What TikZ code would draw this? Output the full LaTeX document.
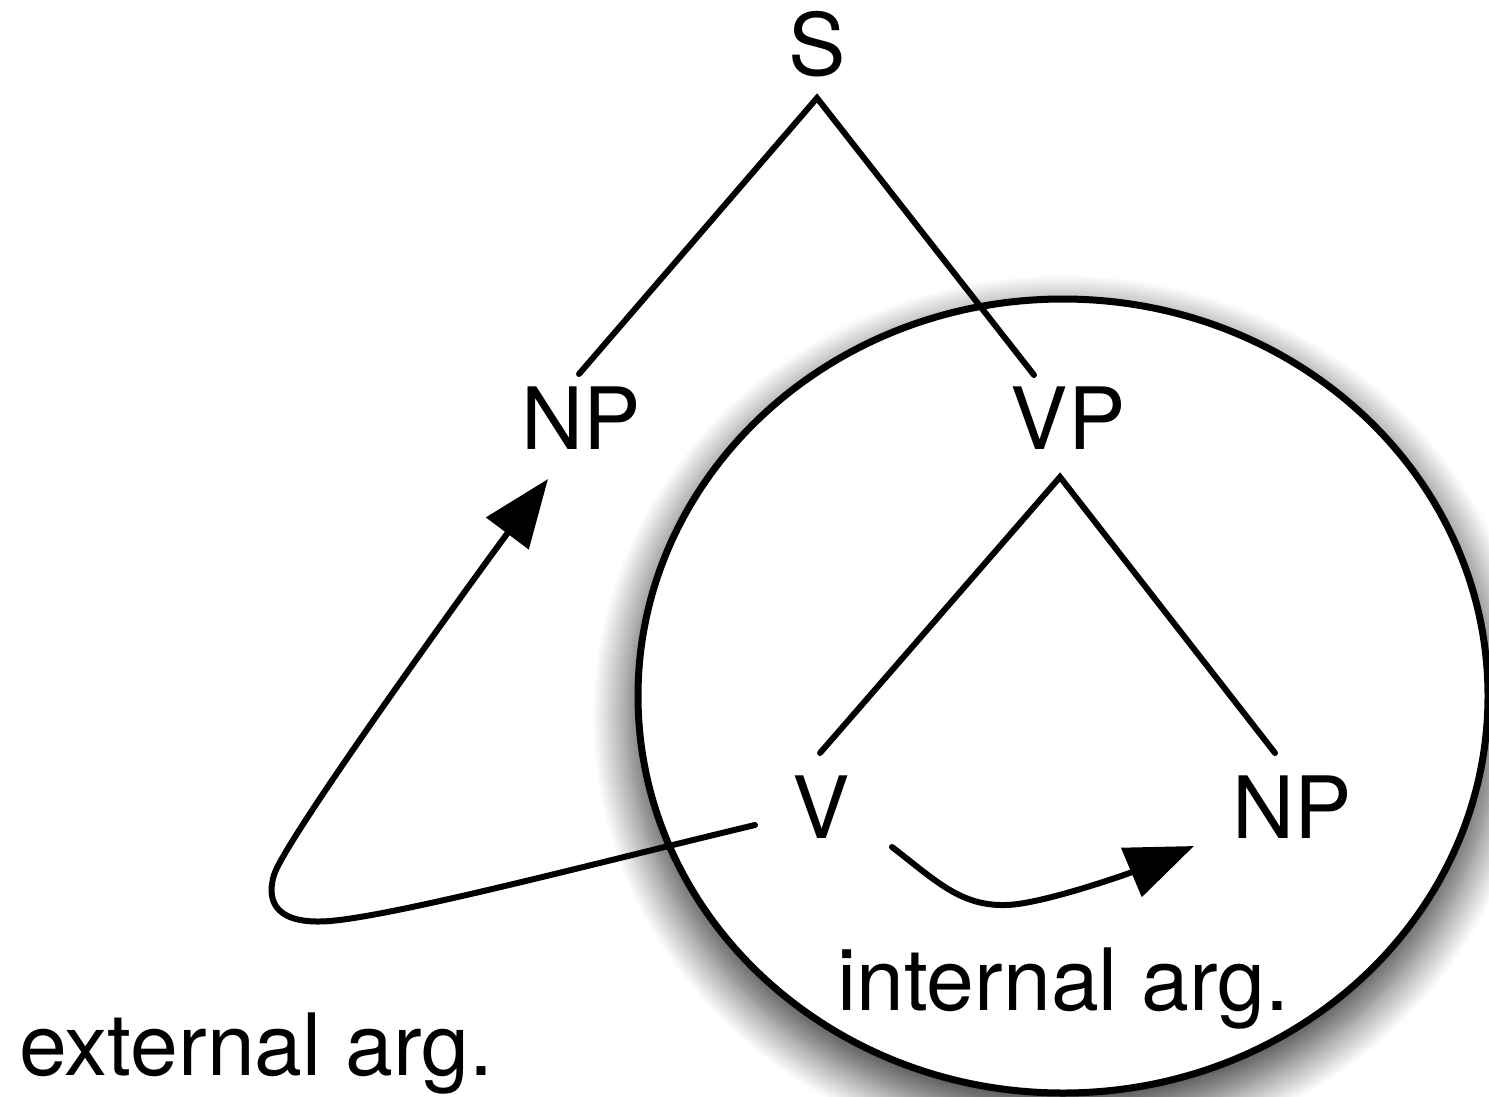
\documentclass[tikz,border=0pt]{standalone}
\usepackage{fontspec}
\setmainfont{TeX Gyre Heros}
\usetikzlibrary{arrows.meta,shadows.blur}
\begin{document}
\begin{tikzpicture}[x=1pt,y=-1pt,
  lbl/.style={font=\fontsize{86}{90}\selectfont, inner sep=0pt, anchor=base},
  edge/.style={line width=6pt, line cap=round},
  argarrow/.style={line width=6pt, line cap=round, line join=round, -{Triangle[length=68pt,width=52pt]}},
  bubble/.style={draw=black, line width=7pt, fill=white,
    blur shadow={shadow xshift=0pt, shadow yshift=-20pt, shadow scale=1.025,
                 shadow blur radius=34pt, shadow blur steps=28, shadow opacity=70}}]
\useasboundingbox (0,0) rectangle (1489,1096);
% circle around VP
\begin{scope}
\path[bubble] (1063,696) ellipse [x radius=425pt, y radius=397pt];
\end{scope}
% labels
\node[lbl] (S) at (817,75) {S};
\node[lbl] (NPa) at (581,449) {NP};
\node[lbl] (VP) at (1068,449) {VP};
\node[lbl] (V) at (821,838) {V};
\node[lbl] (NPb) at (1292,838) {NP};
\node[lbl, anchor=base west] (int) at (837,1010) {internal arg.};
\node[lbl, anchor=base west] (ext) at (19,1075) {external arg.};
% edge end points
\coordinate (S-b) at (817,98);
\coordinate (NPa-t) at (579,374);
\coordinate (VP-t) at (1034,375);
\coordinate (VP-b) at (1060,477);
\coordinate (V-t) at (820,753);
\coordinate (NPb-t) at (1275,753);
% tree edges
\draw[edge] (NPa-t) -- (S-b) -- (VP-t);
\draw[edge] (V-t) -- (VP-b) -- (NPb-t);
% argument arrows
\coordinate (ext-s) at (755,825);
\coordinate (ext-bot) at (330,921);
\coordinate (ext-turn) at (274,875);
\coordinate (ext-e) at (548,479);
\draw[argarrow] (ext-s) .. controls (600,862) and (400,915) .. (ext-bot)
  .. controls (280,925) and (265,905) .. (ext-turn)
  .. controls (285,839) and (480,570) .. (ext-e);
\coordinate (int-s) at (892,847);
\coordinate (int-bot) at (1005,905);
\coordinate (int-e) at (1194,846);
\draw[argarrow] (int-s) .. controls (935,880) and (960,906) .. (int-bot)
  .. controls (1040,905) and (1130,873) .. (int-e);
\end{tikzpicture}
\end{document}
